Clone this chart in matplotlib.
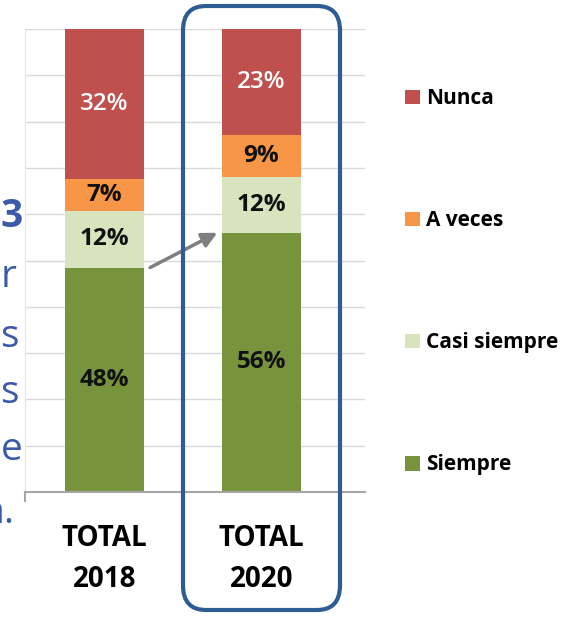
import numpy as np
import matplotlib.pyplot as plt
from matplotlib.patches import FancyBboxPatch, Patch

plt.rcParams['font.family'] = ['Open Sans', 'DejaVu Sans']

# datos
categorias = ["TOTAL\n2018", "TOTAL\n2020"]
series = ["Siempre", "Casi siempre", "A veces", "Nunca"]
siempre = [48, 56]
casi_siempre = [12, 12]
a_veces = [7, 9]
nunca = [32, 23]
colores = ["#77933C", "#D7E4BD", "#F79646", "#C0504D"]
color_texto = ["#111111", "#111111", "#111111", "#FFFFFF"]

W, H = 574, 617
fig = plt.figure(figsize=(W / 100, H / 100), dpi=100)
ax = fig.add_axes([25 / W, (H - 492) / H, 340 / W, 463 / H])

x = np.arange(len(categorias))
ancho = 0.503
valores = np.array([siempre, casi_siempre, a_veces, nunca], dtype=float)
# grafico 100% apilado
totales = valores.sum(axis=0)
pct = valores / totales * 100
base = np.zeros(len(categorias))
for i in range(len(series)):
    ax.bar(x, pct[i], ancho, bottom=base, color=colores[i], label=series[i], zorder=2)
    for j in range(len(categorias)):
        ax.text(x[j], base[j] + pct[i][j] / 2, f"{int(valores[i][j])}%", ha='center',
                va='center', fontsize=17.5, fontweight='bold' if i < 3 else 'semibold',
                color=color_texto[i], zorder=3)
    base += pct[i]

ax.set_xlim(-0.506, 1.659)
ax.set_ylim(0, 100)
ax.set_yticks(np.arange(0, 101, 10))
ax.yaxis.grid(True, color="#D9D9D9", linewidth=1, zorder=0)
ax.tick_params(axis='y', left=False, labelleft=False)
ax.set_xticks(x, categorias, fontsize=20, fontweight='bold', linespacing=1.55)
ax.tick_params(axis='x', length=0, pad=23)
ax.set_xticks([-0.506], minor=True)
ax.tick_params(axis='x', which='minor', length=7, width=1.5, color="#A6A6A6")
for s in ['top', 'right']:
    ax.spines[s].set_visible(False)
ax.spines['left'].set_color("#E3E3E3")
ax.spines['bottom'].set_color("#A6A6A6")
ax.spines['bottom'].set_linewidth(1.5)

# flecha entre barras
y0 = pct[0][0]
y1 = pct[0][1]
ax.annotate("", xy=(1 - ancho / 2 - 0.03, y1), xytext=(ancho / 2 + 0.04, y0),
            arrowprops=dict(arrowstyle="-|>,head_length=0.9,head_width=0.45",
                            color="#7F7F7F", lw=2.5, shrinkA=0, shrinkB=0), zorder=4)

# leyenda
handles = [Patch(facecolor=colores[i], label=series[i]) for i in range(4)][::-1]
ax.legend(handles=handles, loc='upper left', bbox_to_anchor=(1.118, 0.872),
          frameon=False, labelspacing=4.85, handlelength=0.72,
          handleheight=0.72, handletextpad=0.3, borderpad=0, borderaxespad=0,
          prop={'weight': 'bold', 'size': 15})

# recuadro azul
marco = FancyBboxPatch((183 / W, (H - 610) / H), 157 / W, 604 / H,
                       boxstyle="round,pad=0,rounding_size=0.04",
                       transform=fig.transFigure, fill=False,
                       edgecolor="#2E5D94", linewidth=3, zorder=5)
fig.patches.append(marco)

# texto recortado de la diapositiva
texto_izq = ["3", "r", "s", "s", "e"]
bases_y = [227, 287, 347, 403, 460]
for t, yb in zip(texto_izq, bases_y):
    fig.text(0.5 / W, (H - yb) / H, t, ha='left', va='baseline', fontsize=28,
             color="#3A5BAA", fontweight='bold' if t == "3" else 'normal')
fig.text(15 / W, (H - 523) / H, "n.", ha='right', va='baseline', fontsize=28,
         color="#3A5BAA")

fig.savefig("out.png", dpi=100)
